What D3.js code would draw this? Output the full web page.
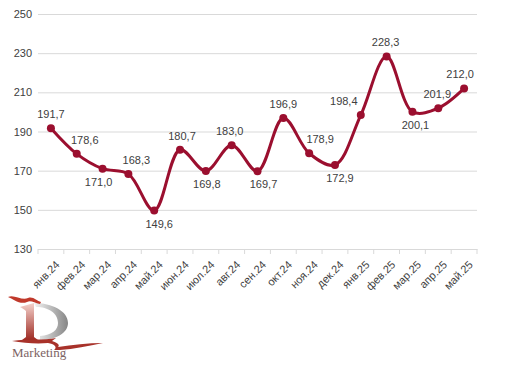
<!DOCTYPE html>
<html>
<head>
<meta charset="utf-8">
<script src="https://cdn.jsdelivr.net/npm/d3@7"></script>
<style>
  html, body { margin: 0; padding: 0; background: #ffffff; }
  svg { display: block; font-family: "Liberation Sans", Arial, sans-serif; }
</style>
</head>
<body>
<svg id="chart" width="507" height="368"></svg>
<script>
const months = ["янв.24", "фев.24", "мар.24", "апр.24", "май.24", "июн.24", "июл.24", "авг.24",
  "сен.24", "окт.24", "ноя.24", "дек.24", "янв.25", "фев.25", "мар.25", "апр.25", "май.25"];
const values = [191.7, 178.6, 171.0, 168.3, 149.6, 180.7, 169.8, 183.0,
  169.7, 196.9, 178.9, 172.9, 198.4, 228.3, 200.1, 201.9, 212.0];
// label above or below its point, plus a small sideways nudge
const labelSide = ["up", "up", "down", "up", "down", "up", "down", "up",
  "down", "up", "up", "down", "up", "up", "down", "up", "up"];
const labelNudge = [0, 8, -4, 8, 5, 2, 1, -2, 6, 0, 11, 5, -17, -1, 3, -1, -4];
const yTicks = [130, 150, 170, 190, 210, 230, 250];

const lineColor = "#9b0f2f";
const textColor = "#404040";

const svg = d3.select("#chart");
const margin = { left: 38, right: 30, top: 14, bottom: 119 };
const width = +svg.attr("width");
const height = +svg.attr("height");

const x = d3.scaleBand()
  .domain(months)
  .range([margin.left, width - margin.right])
  .padding(0);
const y = d3.scaleLinear()
  .domain([130, 250])
  .range([height - margin.bottom, margin.top]);

const fmt = (v) => v.toFixed(1).replace(".", ",");

// gridlines + y labels
const yAxis = svg.append("g")
  .attr("transform", `translate(${margin.left},0)`)
  .call(d3.axisLeft(y).tickValues(yTicks).tickSize(-(width - margin.left - margin.right)).tickPadding(6));
yAxis.select(".domain").remove();
yAxis.selectAll(".tick line").attr("stroke", "#d9d9d9");
yAxis.selectAll(".tick text").attr("fill", textColor).attr("font-size", 11);

// x axis with category edge ticks
const xAxis = svg.append("g")
  .attr("transform", `translate(0,${y(130)})`)
  .call(d3.axisBottom(x).tickSize(0).tickFormat(""));
xAxis.select(".domain").attr("stroke", "#d9d9d9");
const edges = months.map((m) => x(m)).concat([x(months[months.length - 1]) + x.bandwidth()]);
xAxis.selectAll(".edge")
  .data(edges)
  .join("line")
  .attr("x1", (d) => d).attr("x2", (d) => d)
  .attr("y1", 0).attr("y2", 5)
  .attr("stroke", "#d9d9d9");

xAxis.selectAll(".lbl")
  .data(months)
  .join("text")
  .attr("class", "lbl")
  .attr("transform", (d) => `translate(${x(d) + x.bandwidth() / 2 + 4},${11}) rotate(-45)`)
  .attr("text-anchor", "end")
  .attr("dy", "0.7em")
  .attr("font-size", 11)
  .attr("fill", textColor)
  .text((d) => d);

const cx = (i) => x(months[i]) + x.bandwidth() / 2;

const line = d3.line()
  .x((d, i) => cx(i))
  .y((d) => y(d))
  .curve(d3.curveCatmullRom.alpha(0.5));

svg.append("path")
  .datum(values)
  .attr("d", line)
  .attr("fill", "none")
  .attr("stroke", lineColor)
  .attr("stroke-width", 3)
  .attr("stroke-linejoin", "round");

svg.selectAll(".pt")
  .data(values)
  .join("circle")
  .attr("class", "pt")
  .attr("cx", (d, i) => cx(i))
  .attr("cy", (d) => y(d))
  .attr("r", 4)
  .attr("fill", lineColor);

svg.selectAll(".val")
  .data(values)
  .join("text")
  .attr("class", "val")
  .attr("x", (d, i) => cx(i) + labelNudge[i])
  .attr("y", (d, i) => y(d) + (labelSide[i] === "up" ? -10 : 17))
  .attr("text-anchor", "middle")
  .attr("font-size", 11)
  .attr("fill", textColor)
  .text(fmt);

// logo
const defs = svg.append("defs");
const redGrad = defs.append("linearGradient").attr("id", "redG").attr("x1", 0).attr("y1", 0).attr("x2", 0).attr("y2", 1);
redGrad.append("stop").attr("offset", "0%").attr("stop-color", "#f4d2cc");
redGrad.append("stop").attr("offset", "100%").attr("stop-color", "#9e2a22");
const grayGrad = defs.append("linearGradient").attr("id", "grayG").attr("x1", 0).attr("y1", 0).attr("x2", 1).attr("y2", 0);
grayGrad.append("stop").attr("offset", "0%").attr("stop-color", "#f4f4f4");
grayGrad.append("stop").attr("offset", "100%").attr("stop-color", "#858585");

const logo = svg.append("g").attr("transform", "translate(0,285)");
logo.append("path")
  .attr("d", "M34,18 C52,18 68,26 68,38 C68,48 56,55 40,55 L40,51 C52,50 58,45 58,38 C58,28 48,22 36,22 Z")
  .attr("fill", "url(#grayG)");
logo.append("path")
  .attr("d", "M8,12 C14,9 22,16 28,13 C33,11 37,16 41,17 L40,19 C34,18 31,15 27,17 C20,20 13,14 8,12 Z")
  .attr("fill", "#c0392b");
logo.append("path")
  .attr("d", "M20,22 L34,18 L34,52 L38,55 L22,55 L26,52 L26,26 C24,24 22,23 20,22 Z")
  .attr("fill", "url(#redG)");
logo.append("path")
  .attr("d", "M12,56 C28,53 44,56 56,53 L52,56 C58,58 60,60 58,62 C72,60 88,58 103,58 C88,61 74,64 60,65 L54,65 C58,62 54,59 48,58 C36,59 24,58 12,56 Z")
  .attr("fill", "#a8322a");
logo.append("text")
  .attr("x", 12)
  .attr("y", 72)
  .attr("font-family", "'Liberation Serif', 'DejaVu Serif', serif")
  .attr("font-size", 13)
  .attr("fill", "#7d6363")
  .text("Marketing");
</script>
</body>
</html>
